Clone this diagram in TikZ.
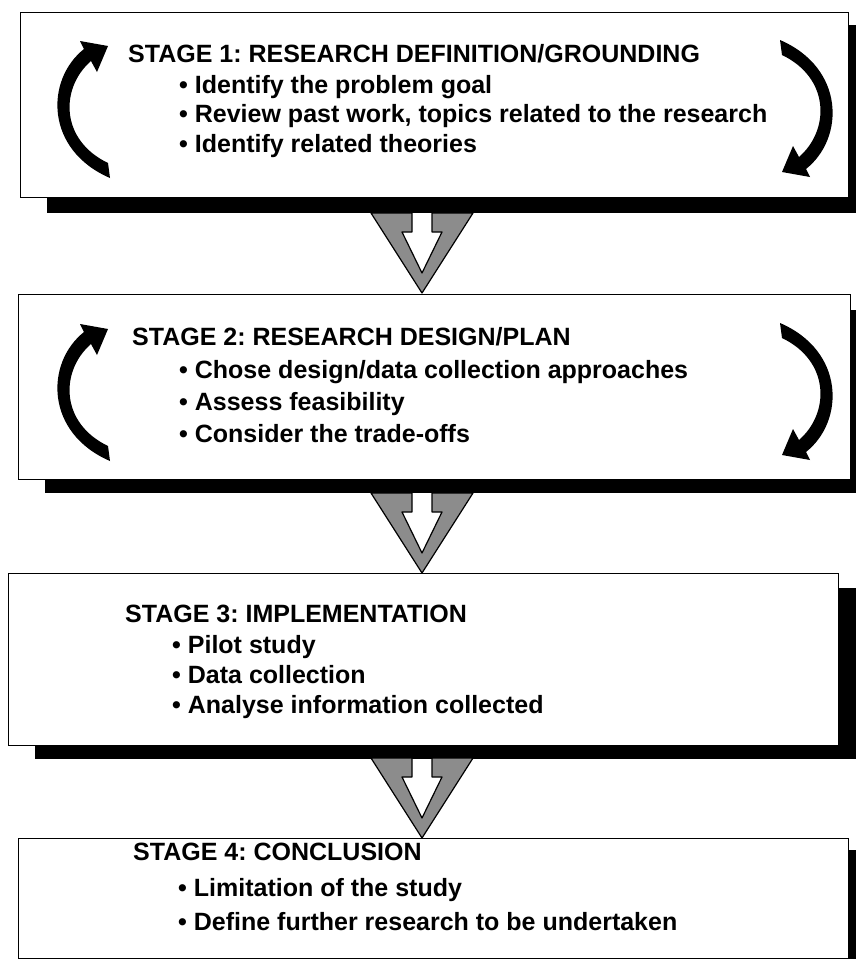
\documentclass[tikz,border=0pt]{standalone}
\usepackage{fontspec}
\setmainfont{Liberation Sans}
\frenchspacing
\tikzset{
  box/.style={draw=black, line width=1.2pt, fill=white, anchor=north west, inner sep=0pt},
  shadowfill/.style={fill=black},
  txt/.style={anchor=base west, inner sep=0pt, font=\bfseries\fontsize{25}{30}\selectfont},
  downarr/.pic={
    \filldraw[fill=black!45, draw=black, line width=1.2pt, line join=round]
      (-51,0) -- (0,80) -- (51,0) -- (10,0) -- (10,19) -- (20,19) -- (0,60)
      -- (-20,19) -- (-10,19) -- (-10,0) -- cycle;
  }
}
\newcommand{\cycarrowpath}{%
  \fill (110,178) .. controls (45,150) and (45,80) .. (84,49) -- (80,41) -- (108,46)
    -- (97,72) -- (91,61) .. controls (60,88) and (60,140) .. (108,163) -- cycle;}
\begin{document}
\begin{tikzpicture}[x=1pt,y=-1pt]
\useasboundingbox (0,0) rectangle (856,967);
\fill[white] (0,0) rectangle (856,967);

% ---------- Stage 1 ----------
\fill[shadowfill] (47,197) rectangle (856,213);
\fill[shadowfill] (848,25) rectangle (856,213);
\node[box, minimum width=828pt, minimum height=185pt] (b1) at (20,12) {};
\node[txt] (t1) at (128,62) {STAGE 1: RESEARCH DEFINITION/GROUNDING};
\node[txt] (t1a) at (179,93) {• Identify the problem goal};
\node[txt] (t1b) at (179,122) {• Review past work, topics related to the research};
\node[txt] (t1c) at (179,152) {• Identify related theories};
\cycarrowpath
\begin{scope}[rotate around={180:(445,109)}]\cycarrowpath\end{scope}

% ---------- Stage 2 ----------
\fill[shadowfill] (45,479) rectangle (856,493);
\fill[shadowfill] (850,310) rectangle (856,493);
\node[box, minimum width=832pt, minimum height=185pt] (b2) at (18,294) {};
\node[txt] (t2) at (132,345) {STAGE 2: RESEARCH DESIGN/PLAN};
\node[txt] (t2a) at (179,378) {• Chose design/data collection approaches};
\node[txt] (t2b) at (179,410) {• Assess feasibility};
\node[txt] (t2c) at (179,442) {• Consider the trade-offs};
\begin{scope}[shift={(0,283)}]
  \cycarrowpath
  \begin{scope}[rotate around={180:(445,109)}]\cycarrowpath\end{scope}
\end{scope}

% ---------- Stage 3 ----------
\fill[shadowfill] (35,745) rectangle (856,759);
\fill[shadowfill] (838,588) rectangle (856,759);
\node[box, minimum width=830pt, minimum height=172pt] (b3) at (8,573) {};
\node[txt] (t3) at (125,622) {STAGE 3: IMPLEMENTATION};
\node[txt] (t3a) at (172,653) {• Pilot study};
\node[txt] (t3b) at (172,683) {• Data collection};
\node[txt] (t3c) at (172,713) {• Analyse information collected};

% ---------- Stage 4 ----------
\fill[shadowfill] (848,850) rectangle (856,959);
\node[box, minimum width=830pt, minimum height=120pt] (b4) at (18,838) {};
\node[txt] (t4) at (133,860) {STAGE 4: CONCLUSION};
\node[txt] (t4a) at (178,896) {• Limitation of the study};
\node[txt] (t4b) at (178,930) {• Define further research to be undertaken};

% ---------- down arrows ----------
\pic at (422,213) {downarr};
\pic at (422,493) {downarr};
\pic at (422,758) {downarr};
\end{tikzpicture}
\end{document}
